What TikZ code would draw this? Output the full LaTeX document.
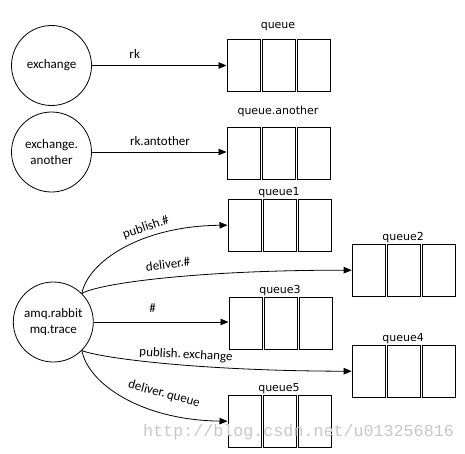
\documentclass[tikz,border=0pt]{standalone}
\usepackage{fontspec}
\setmainfont{Carlito}
\newfontfamily\qfont{DejaVu Sans}
\newfontfamily\wmfont{Liberation Mono}
\usetikzlibrary{arrows.meta}
\newcommand\qqueue[5]{%
  \path (#2,#3) node[qbox] (#1a) {} ++(35,0) node[qbox] (#1b) {} ++(35,0) node[qbox] (#1c) {};
  \node[qlab,anchor=base] (#1l) at (#2+51.5,#3-#5) {#4};
}
\begin{document}
\begin{tikzpicture}[x=1pt,y=-1pt,
  ex/.style={circle,draw,line width=0.8pt,minimum size=80pt,inner sep=0pt,align=center,font=\fontsize{13}{15.5}\selectfont},
  qbox/.style={draw,line width=0.9pt,minimum width=33pt,minimum height=52.5pt,inner sep=0pt,anchor=north west},
  qlab/.style={font=\qfont\fontsize{11}{13}\selectfont,inner sep=0pt},
  elab/.style={font=\fontsize{13}{15}\selectfont,inner sep=0pt},
  conn/.style={line width=0.8pt,-{Triangle[length=8pt,width=6.5pt]}},
  wm/.style={font=\wmfont\fontsize{16.7}{18}\selectfont,text=black!22,inner sep=0pt}
]
\useasboundingbox (0,0) rectangle (465,453);
% exchanges
\node[ex] (ex1) at (51.5,65.5) {exchange};
\node[ex] (ex2) at (51.5,152) {exchange.\\another};
\node[ex] (amq) at (53.3,322) {amq.rabbit\\mq.trace};
% queues
\qqueue{q0}{226.5}{38.5}{queue}{10.3}
\qqueue{qa}{226.5}{126.5}{queue.another}{12}
\qqueue{q1}{227.5}{198.5}{queue1}{3.3}
\qqueue{q2}{351.7}{243.5}{queue2}{3.3}
\qqueue{q3}{228.5}{296.5}{queue3}{3.3}
\qqueue{q4}{351.7}{344.5}{queue4}{3.3}
\qqueue{q5}{227.5}{394.5}{queue5}{3.3}
% connectors
\draw[conn] (ex1.east) -- (ex1.east -| q0a.west);
\draw[conn] (ex2.east) -- (ex2.east -| qaa.west);
\draw[conn] (amq.45) .. controls (88,262) and (140,226) .. (q1a.west);
\draw[conn] (amq.45) .. controls (100,283) and (200,270) .. (q2a.west);
\draw[conn] (amq.east) -- (amq.east -| q3a.west);
\draw[conn] (amq.-45) .. controls (100,358) and (200,371) .. (q4a.west);
\draw[conn] (amq.-45) .. controls (88,383) and (140,420) .. (q5a.west);
% labels
\node[elab] (l0) at (134.7,54.2) {rk};
\node[elab] (la) at (160,141.2) {rk.antother};
\node[elab,rotate=19] (l1) at (146,227.5) {publish.\#};
\node[elab,rotate=7] (l2) at (168,264) {deliver.\#};
\node[elab] (l3) at (152.7,308.3) {\#};
\node[elab,rotate=-3] (l4) at (186,355) {publish.\,exchange};
\node[elab,rotate=-15] (l5) at (164,394) {deliver.\,queue};
% watermark
\node[wm,anchor=west] (wmark) at (143,432) {http://blog.csdn.net/u013256816};
\end{tikzpicture}
\end{document}
